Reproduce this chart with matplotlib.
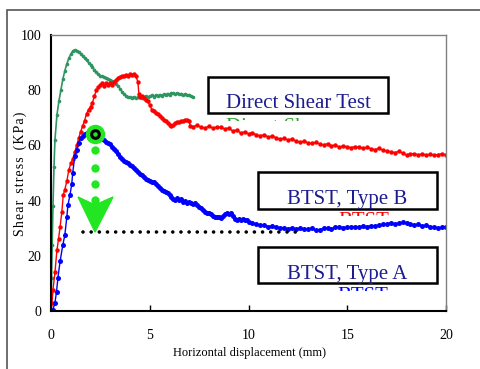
import numpy as np
import matplotlib
matplotlib.use("Agg")
import matplotlib.pyplot as plt
from matplotlib.patches import Rectangle, Polygon
from matplotlib.transforms import Bbox, TransformedBbox

# direct shear test (green)
ds_x = [0, 0.03, 0.06, 0.1, 0.15, 0.2, 0.3, 0.4, 0.5, 0.6, 0.7, 0.8, 0.9, 1.0,
        1.1, 1.2, 1.3, 1.4, 1.5, 1.6, 1.7, 1.8, 1.9, 2.0, 2.1, 2.2, 2.3, 2.4,
        2.5, 2.6, 2.7, 2.8, 2.9, 3.0, 3.1, 3.2, 3.3, 3.4, 3.5, 3.6, 3.7, 3.8,
        3.9, 4.0, 4.1, 4.2, 4.3, 4.4, 4.5, 4.6, 4.7, 4.8, 4.9, 5.0, 5.1, 5.2,
        5.3, 5.4, 5.5, 5.6, 5.7, 5.8, 5.9, 6.0, 6.1, 6.2, 6.3, 6.4, 6.5, 6.6,
        6.7, 6.8, 6.9, 7.0, 7.1, 7.2]
ds_y = [0, 12, 24, 38, 52, 62, 71, 76, 80, 84, 87, 89.5, 91.5, 93, 94.2, 94.6,
        94.3, 93.8, 93.2, 92.5, 91.7, 90.8, 90.0, 89.2, 88.3, 87.4, 86.5, 85.7,
        85.3, 85.0, 84.8, 84.5, 84.2, 83.8, 83.3, 82.8, 82.2, 81.5, 80.5, 79.5,
        78.6, 78.0, 77.6, 77.5, 77.3, 77.6, 77.2, 77.4, 77.7, 77.3, 77.6, 77.9,
        77.5, 77.8, 78.1, 77.7, 78.2, 77.9, 78.4, 78.0, 78.5, 78.3, 78.8, 78.4,
        78.9, 79.0, 78.6, 78.9, 78.5, 78.8, 78.3, 78.6, 78.1, 78.4, 77.8, 77.5]

# BTST type B (red)
b_x = [0, 0.05, 0.1, 0.2, 0.3, 0.38, 0.46, 0.55, 0.62, 0.7, 0.8, 0.9, 1.0,
       1.1, 1.2, 1.3, 1.4, 1.5, 1.6, 1.7, 1.8, 1.9, 2.0, 2.1, 2.2, 2.3, 2.4,
       2.5, 2.6, 2.7, 2.8, 2.9, 3.0, 3.1, 3.2, 3.3, 3.4, 3.5, 3.6, 3.7, 3.8,
       3.9, 4.0, 4.1, 4.2, 4.3, 4.4, 4.45, 4.5, 4.6, 4.7, 4.8, 4.9, 5.0, 5.1,
       5.2, 5.3, 5.4, 5.5, 5.6, 5.7, 5.8, 5.9, 6.0, 6.1, 6.2, 6.3, 6.4, 6.5,
       6.6, 6.7, 6.8, 6.9, 7.0, 7.05, 7.2, 7.4, 7.6, 7.8, 8.0, 8.2, 8.4, 8.6,
       8.8, 9.0, 9.2, 9.4, 9.6, 9.8, 10.0, 10.2, 10.4, 10.6, 10.8, 11.0, 11.2,
       11.4, 11.6, 11.8, 12.0, 12.2, 12.4, 12.6, 12.8, 13.0, 13.2, 13.4, 13.6,
       13.8, 14.0, 14.2, 14.4, 14.6, 14.8, 15.0, 15.2, 15.4, 15.6, 15.8, 16.0,
       16.2, 16.4, 16.6, 16.8, 17.0, 17.2, 17.4, 17.6, 17.8, 18.0, 18.2, 18.4,
       18.6, 18.8, 19.0, 19.2, 19.4, 19.6, 19.8, 20.0]
b_y = [0, 3, 7.6, 14, 22, 26, 30.5, 36, 42, 44, 47, 51, 53.5, 55, 57.5, 60,
       62.5, 65, 67, 69, 71.5, 73, 74, 75.5, 78, 80, 81, 82, 82.5, 81.5, 82.5,
       81.8, 82.6, 82, 82.8, 83.8, 84.5, 84.7, 85, 85.3, 85.6, 85.2, 85.8,
       85.5, 85.9, 85, 83, 78.5, 77.5, 77.8, 77, 76.3, 76, 74.5, 73, 72.5,
       71.8, 71.2, 70.5, 70, 69.2, 68.7, 68.2, 67.5, 67, 67.4, 68, 68.5, 68.3,
       68.8, 69, 69.3, 69.2, 68.8, 67, 66.8, 67.3, 66.5, 66.4, 66.9, 66.3,
       66.7, 66.5, 66, 66.3, 65.2, 65.6, 64.5, 64.9, 64.2, 64.6, 63.8, 63.5,
       63.9, 63, 63.4, 62.8, 62.2, 62.6, 62, 62.3, 61.6, 61.2, 61.5, 61, 60.7,
       61.1, 60.5, 60.2, 60.6, 59.9, 60.1, 59.4, 59.8, 59.5, 59.2, 59.6, 59.3,
       59.0, 59.3, 58.8, 58.5, 58.9, 58.3, 58.0, 57.7, 57.4, 57.8, 57.2, 56.5,
       56.9, 57.0, 56.6, 56.9, 56.5, 56.8, 56.4, 56.7, 57.0, 56.6]

# BTST type A (blue)
a_x = [0, 0.1, 0.2, 0.28, 0.35, 0.46, 0.6, 0.7, 0.8, 0.86, 0.96, 1.05, 1.1,
       1.2, 1.3, 1.4, 1.5, 1.6, 1.7, 1.8, 1.9, 2.0, 2.1, 2.2, 2.3, 2.4, 2.5,
       2.6, 2.7, 2.8, 2.9, 3.0, 3.1, 3.2, 3.3, 3.4, 3.5, 3.6, 3.7, 3.8, 3.9,
       4.0, 4.1, 4.2, 4.3, 4.4, 4.5, 4.6, 4.7, 4.8, 4.9, 5.0, 5.1, 5.2, 5.3,
       5.4, 5.5, 5.6, 5.7, 5.8, 5.9, 6.0, 6.1, 6.2, 6.3, 6.4, 6.5, 6.6, 6.7,
       6.8, 6.9, 7.0, 7.1, 7.2, 7.3, 7.4, 7.5, 7.6, 7.7, 7.8, 7.9, 8.0, 8.1,
       8.2, 8.3, 8.4, 8.5, 8.6, 8.7, 8.8, 8.9, 9.0, 9.1, 9.2, 9.3, 9.4, 9.5,
       9.6, 9.7, 9.8, 9.9, 10.0, 10.2, 10.4, 10.6, 10.8, 11.0, 11.2, 11.4,
       11.6, 11.8, 12.0, 12.2, 12.4, 12.6, 12.8, 13.0, 13.2, 13.4, 13.6, 13.8,
       14.0, 14.2, 14.4, 14.6, 14.8, 15.0, 15.2, 15.4, 15.6, 15.8, 16.0, 16.2,
       16.4, 16.6, 16.8, 17.0, 17.2, 17.4, 17.6, 17.8, 18.0, 18.2, 18.4, 18.6,
       18.8, 19.0, 19.2, 19.4, 19.6, 19.8, 20.0]
a_y = [0, 0.5, 3, 7, 12, 18, 24, 27.5, 34, 38.5, 42, 46, 50, 56, 58.5, 61,
       62.5, 63.3, 64.2, 64.5, 64.4, 64.6, 64.2, 63.8, 63.5, 63.0, 62.5, 62.2,
       61.8, 61.4, 61, 60.5, 59.6, 58.8, 58, 56.8, 55.8, 55.2, 54.5, 54, 53.5,
       53, 52.4, 51.8, 51, 50.3, 49.8, 49.3, 48.6, 48, 47.6, 47.2, 46.8, 46.6,
       46.0, 45.2, 44.6, 44.0, 43.5, 43.0, 42.6, 42.0, 41.2, 40.6, 40.2, 41,
       40.2, 40.6, 39.5, 39.8, 39.3, 39.6, 39.2, 38.6, 39, 38.5, 37.7, 37.2,
       36.6, 36, 35.6, 35.6, 35, 34.6, 34.2, 34, 34.2, 33.8, 34.5, 35.3, 35.5,
       35.3, 35.5, 34.5, 33.5, 33, 33.2, 32.8, 33.3, 33, 33, 32.4, 31.9, 31.6,
       31, 31.2, 30.6, 30.8, 30.4, 30.2, 30, 29.8, 30.2, 29.6, 30, 29.8, 29.6,
       30, 29.4, 29.5, 29.9, 30, 29.8, 30.3, 30.5, 30.2, 30.5, 30.3, 30.6, 30.4,
       30.8, 30.6, 30.9, 30.7, 31.2, 31.4, 31.6, 32, 31.6, 31.8, 32.1, 32, 31.6,
       31.2, 31.4, 30.9, 31, 30.6, 30.4, 30, 30.3, 30.6]

# annotation marks
peak = (2.23, 64.0)
drop_x = [2.23, 2.23, 2.23, 2.23]
drop_y = [58.3, 51.8, 46.0, 40.2]
head_x = [1.37, 2.23, 3.14, 2.23]
head_y = [41.3, 38.4, 41.3, 28.6]
resid_x = [1.6, 12.5]
resid_y = [28.6, 28.6]

W, H = 480, 369


def fx(px):
    return px / W


def fy(py):
    return 1 - py / H


plt.rcParams['font.family'] = ['Liberation Serif', 'DejaVu Serif']

fig = plt.figure(figsize=(4.8, 3.69), dpi=100)
fig.patches.append(Rectangle((fx(7), -0.2), 1.2, fy(10) + 0.2, transform=fig.transFigure,
                             fill=False, edgecolor='#555555', linewidth=1.2))

ax = fig.add_axes([fx(51), fy(311), fx(446) - fx(51), fy(35) - fy(311)])

ax.plot(ds_x, ds_y, '-', color='#2e9460', lw=1.2, marker='o', ms=2.6, mew=0)
ax.plot(b_x, b_y, '-', color='#ff0000', lw=1.0, marker='o', ms=3.2, mew=0)
ax.plot(a_x, a_y, '-', color='#0000ff', lw=1.0, marker='o', ms=3.6, mew=0)

ax.plot(resid_x, resid_y, color='black', lw=2.6, linestyle=(0, (0.01, 2.25)),
        dash_capstyle='round')
ax.plot(drop_x, drop_y, 'o', color='#22e622', ms=6, mew=0)
ax.add_patch(Polygon(list(zip(head_x, head_y)), closed=True, color='#22e622', zorder=5))
ax.plot([peak[0]], [peak[1]], 'o', color='#22e622', ms=14, mew=0, zorder=6)
ax.plot([peak[0]], [peak[1]], 'o', mfc='none', mec='black', ms=5.5, mew=2.2, zorder=7)

ax.set_xlim(0, 20)
ax.set_ylim(0, 100)
ax.set_xticks([0, 5, 10, 15, 20])
ax.set_yticks([0, 20, 40, 60, 80, 100])
ax.tick_params(axis='x', direction='in', length=4, width=1, pad=13, labelsize=10)
ax.tick_params(axis='y', length=0, pad=7, labelsize=10)
for s in ['left', 'bottom']:
    ax.spines[s].set_linewidth(1.5)
    ax.spines[s].set_color('black')
for s in ['top', 'right']:
    ax.spines[s].set_linewidth(1.0)
    ax.spines[s].set_color('#808080')

hs = '\u200a'
ylab = '  '.join(hs.join(w) for w in ['Shear', 'stress', '(KPa)'])
fig.text(fx(20), fy(174), ylab, rotation=90, ha='center', va='center', fontsize=10)
fig.text(fx(249), fy(353), 'Horizontal displacement (mm)', ha='center', va='center',
         fontsize=9)

navy = '#1c1c8f'
boxes = [((208, 77, 388, 113), 'Direct Shear Test', 108),
         ((258, 172, 437, 209), 'BTST, Type B', 204),
         ((258, 247, 437, 283), 'BTST, Type A', 279)]
for (x0, y0, x1, y1), label, base in boxes:
    fig.patches.append(Rectangle((fx(x0), fy(y1)), fx(x1) - fx(x0), fy(y0) - fy(y1),
                                 transform=fig.transFigure, facecolor='white',
                                 edgecolor='black', linewidth=1.8, zorder=10))
    fig.text(fx((x0 + x1) / 2), fy(base), label, ha='center', va='baseline',
             fontsize=15, color=navy, zorder=11)

# legend labels peeking out under the boxes
hidden = [('Direct Shear', '#2ca02c', 226, 132, 113, 121),
          ('BTST', '#ff0000', 338, 226, 209, 216),
          ('BTST', '#0000ff', 337, 301, 284, 291)]
for label, col, x0, base, c0, c1 in hidden:
    t = fig.text(fx(x0), fy(base), label, ha='left', va='baseline', fontsize=15,
                 color=col, zorder=9)
    t.set_clip_box(TransformedBbox(Bbox.from_extents(0, fy(c1), 1, fy(c0)), fig.transFigure))
    t.set_clip_on(True)

fig.savefig('out.png', dpi=100)
